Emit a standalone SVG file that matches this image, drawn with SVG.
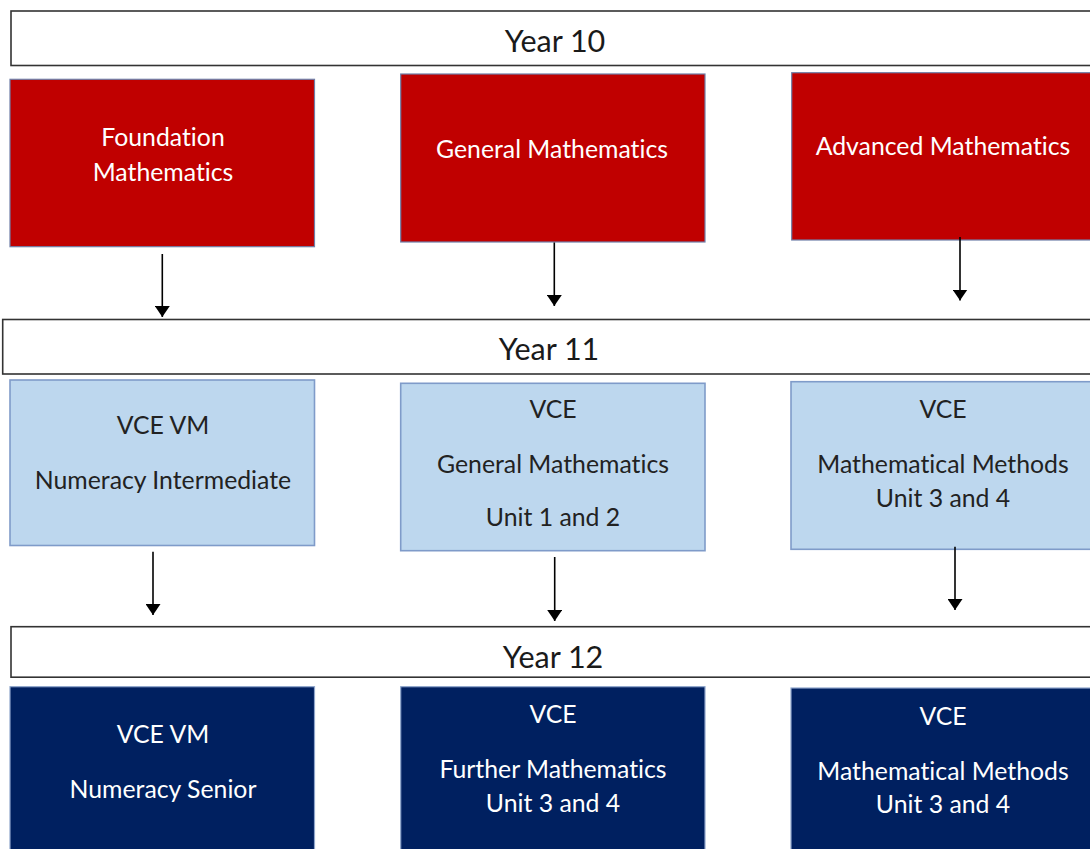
<svg xmlns="http://www.w3.org/2000/svg" width="1090" height="849" viewBox="0 0 1090 849">
<style>
.bar{fill:#fff;stroke:#333;stroke-width:1.6}
.red{fill:#C00000;stroke:#6F7FA8;stroke-width:1.2}
.light{fill:#BDD7EE;stroke:#7F9BC9;stroke-width:1.6}
.navy{fill:#002060;stroke:#8FA6CC;stroke-width:1.2}
text{font-family:Lato,"Open Sans","Liberation Sans",sans-serif;text-anchor:middle;font-variant-ligatures:none}
.yr{font-size:30.5px;fill:#1a1a1a}
.w{font-size:24.8px;fill:#fff}
.d{font-size:24.8px;fill:#222}
.arr{stroke:#000;stroke-width:1.6;fill:none;marker-end:url(#ah)}
</style>
<defs>
<marker id="ah" viewBox="0 0 11 15" refX="11" refY="7.5" markerWidth="11" markerHeight="15" markerUnits="userSpaceOnUse" orient="auto">
<path d="M0,0 L11,7.5 L0,15 Z" fill="#000" transform="rotate(0)"/>
</marker>
</defs>
<rect width="1090" height="849" fill="#fff"/>

<g id="year10"><rect class="bar" x="11" y="11" width="1090" height="54.5"/><text class="yr" x="555" y="52">Year 10</text></g>
<g id="foundation"><rect class="red" x="10" y="79.3" width="304.5" height="167.4"/><text class="w" x="163" y="145.5">Foundation</text><text class="w" x="163" y="180.5">Mathematics</text></g>
<g id="general10"><rect class="red" x="400.7" y="74" width="304.3" height="168"/><text class="w" x="552" y="158">General Mathematics</text></g>
<g id="advanced10"><rect class="red" x="791.7" y="72.7" width="310" height="167.3"/><text class="w" x="943" y="155">Advanced Mathematics</text></g>

<g id="year11"><rect class="bar" x="2.7" y="319.5" width="1100" height="54.5"/><text class="yr" x="549" y="360">Year 11</text></g>
<g id="numeracyInt"><rect class="light" x="10" y="380" width="304.5" height="165.5"/><text class="d" x="163" y="434">VCE VM</text><text class="d" x="163" y="489">Numeracy Intermediate</text></g>
<g id="general11"><rect class="light" x="400.7" y="383.3" width="304.3" height="167.4"/><text class="d" x="553" y="418">VCE</text><text class="d" x="553" y="472.7">General Mathematics</text><text class="d" x="553" y="526">Unit 1 and 2</text></g>
<g id="methods11"><rect class="light" x="791" y="381.7" width="310" height="167.6"/><text class="d" x="943" y="418">VCE</text><text class="d" x="943" y="472.7">Mathematical Methods</text><text class="d" x="943" y="506.7">Unit 3 and 4</text></g>

<g id="year12"><rect class="bar" x="11" y="626.7" width="1090" height="50.5"/><text class="yr" x="553" y="668">Year 12</text></g>
<g id="numeracySen"><rect class="navy" x="10" y="686.7" width="304.5" height="170"/><text class="w" x="163" y="742.7">VCE VM</text><text class="w" x="163" y="797.7">Numeracy Senior</text></g>
<g id="further12"><rect class="navy" x="400.7" y="686.7" width="304.3" height="170"/><text class="w" x="553" y="723">VCE</text><text class="w" x="553" y="778">Further Mathematics</text><text class="w" x="553" y="811.7">Unit 3 and 4</text></g>
<g id="methods12"><rect class="navy" x="791" y="688" width="310" height="170"/><text class="w" x="943" y="725">VCE</text><text class="w" x="943" y="780">Mathematical Methods</text><text class="w" x="943" y="813">Unit 3 and 4</text></g>

<g id="connectors">
<line class="arr" x1="162.3" y1="254" x2="162.3" y2="317"/>
<line class="arr" x1="554.3" y1="242.5" x2="554.3" y2="306"/>
<line class="arr" x1="960" y1="237" x2="960" y2="300.5"/>
<line class="arr" x1="153" y1="551.7" x2="153" y2="615"/>
<line class="arr" x1="554.7" y1="557" x2="554.7" y2="621"/>
<line class="arr" x1="955" y1="546.7" x2="955" y2="610"/>
</g>
</svg>
